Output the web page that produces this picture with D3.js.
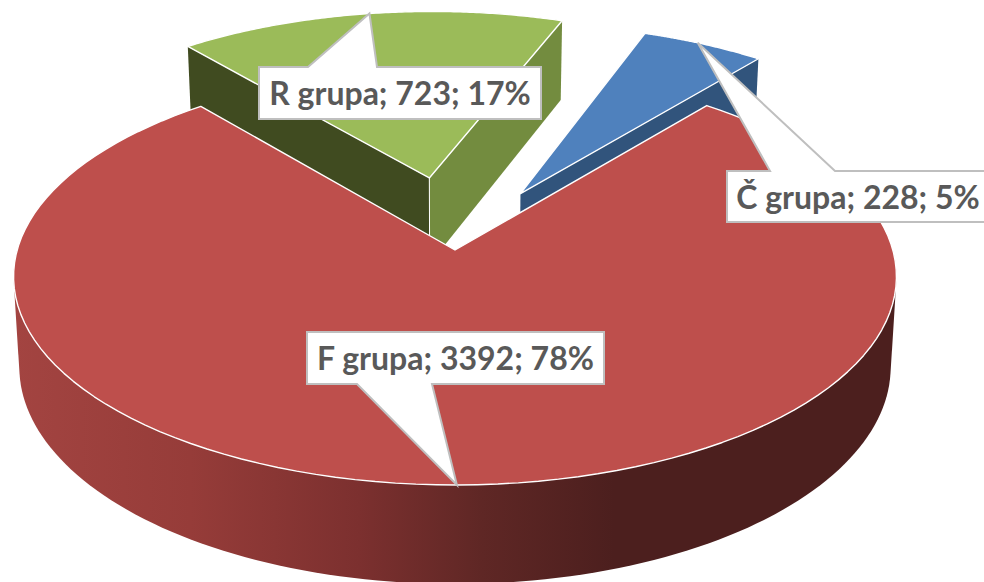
<!DOCTYPE html>
<html><head><meta charset="utf-8">
<script src="https://cdn.jsdelivr.net/npm/d3@7/dist/d3.min.js"></script>
<style>html,body{margin:0;padding:0;background:#fff;overflow:hidden}svg{display:block}</style>
</head><body><svg id="c" width="984" height="582"></svg>
<script>
// data
const categories = ["Č grupa", "F grupa", "R grupa"];
const values = [228, 3392, 723];
const percents = [5, 78, 17];
// styling
const topColors = ["#4F81BD", "#BE4F4C", "#9BBB59"];
const wallStart = ["#31547C", null, "#404B20"]; // wall at the slice's start edge
const wallEnd = ["#31547C", null, "#738C3F"];
const offsetU = [0.155, 0, -0.0614];
const offsetV = [-0.285, 0, -0.368];
const labelBoxes = [[727, 171, 262, 51], [307, 332, 297, 52], [259, 67, 282, 52]];
const labelBases = [[770, 835], [357, 432], [308, 377]];
const baseOnTop = [true, false, true];
const tipFraction = [0.45, 0.5, 0.5];

const firstAngle = 20.3 * Math.PI / 180;
const k = 0.128, h = 89, bottomShrink = 0.987;
const x = d3.scaleLinear().domain([-1, 1]).range([455 - 437.8, 455 + 437.8]);
const y = d3.scaleLinear().domain([-1, 1]).range([250 - 204.9, 250 + 204.9]);

function project(u, v, bottom) {
  const s = 1 / (1 - k * v);
  const f = bottom ? bottomShrink : 1;
  return [x(u * s * f), y(v * s * f) + (bottom ? h * s : 0)];
}
const rim = (t, i, b) => project(Math.sin(t) + offsetU[i], -Math.cos(t) + offsetV[i], b);
const centre = (i, b) => project(offsetU[i], offsetV[i], b);
const line = d3.line();
const arcPts = (a0, a1, i, b) => d3.range(0, 121).map(n => rim(a0 + (a1 - a0) * n / 120, i, b));

const pie = d3.pie().sort(null).startAngle(firstAngle).endAngle(firstAngle + 2 * Math.PI);
const arcs = pie(values);
const svg = d3.select("#c");

const grad = svg.append("defs").append("linearGradient").attr("id", "redSide")
  .attr("gradientUnits", "userSpaceOnUse").attr("x1", 14).attr("x2", 897).attr("y1", 0).attr("y2", 0);
[[0, "#A34441"], [0.2, "#963C39"], [0.39, "#7C302F"], [0.53, "#5F2725"], [0.68, "#4C1F1E"], [1, "#4C1F1E"]]
  .forEach(d => grad.append("stop").attr("offset", d[0]).attr("stop-color", d[1]));

const edge = { stroke: "#fff", "stroke-width": 1.4, "stroke-linejoin": "round" };
function wall(g, t, i, fill) {
  g.append("path")
    .attr("d", line([centre(i, false), rim(t, i, false), rim(t, i, true), centre(i, true)]) + "Z")
    .attr("fill", fill).attr("stroke", "none");
}
function topFace(g, d, i) {
  const p = g.append("path")
    .attr("d", line([centre(i, false), ...arcPts(d.startAngle, d.endAngle, i, false)]) + "Z")
    .attr("fill", topColors[i]);
  Object.entries(edge).forEach(([a, b]) => p.attr(a, b));
}
// exploded slices at the back first
[2, 0].forEach(i => {
  const d = arcs[i], g = svg.append("g");
  if (i === 2) {
    wall(g, d.startAngle, i, wallStart[i]);
    wall(g, d.endAngle, i, wallEnd[i]);
    const a = centre(i, false), b = centre(i, true);
    g.append("line").attr("x1", a[0]).attr("y1", a[1]).attr("x2", b[0]).attr("y2", b[1])
      .attr("stroke", "#fff").attr("stroke-width", 1);
  } else {
    wall(g, d.endAngle, i, wallEnd[i]);
  }
  topFace(g, d, i);
});
// main slice: the wall is the hull of the front half of both rims
{
  const d = arcs[1], g = svg.append("g");
  const a0 = Math.PI * 0.5, a1 = Math.PI * 1.5;
  const hull = d3.polygonHull([...arcPts(a0, a1, 1, false), ...arcPts(a0, a1, 1, true)]);
  g.append("path").attr("d", line(hull) + "Z").attr("fill", "url(#redSide)");
  topFace(g, d, 1);
}
// callouts
const labels = svg.append("g");
arcs.forEach((d, i) => {
  const tip = rim(d.startAngle + (d.endAngle - d.startAngle) * tipFraction[i], i, false);
  const [bx, by, bw, bh] = labelBoxes[i];
  const [b0, b1] = labelBases[i];
  const yb = baseOnTop[i] ? by : by + bh;
  const pts = baseOnTop[i]
    ? [[bx, by], [b0, by], tip, [b1, by], [bx + bw, by], [bx + bw, by + bh], [bx, by + bh]]
    : [[bx, by], [bx + bw, by], [bx + bw, by + bh], [b1, yb], tip, [b0, yb], [bx, by + bh]];
  labels.append("path").attr("d", line(pts) + "Z").attr("fill", "#fff")
    .attr("stroke", "#BFBFBF").attr("stroke-width", 2).attr("stroke-linejoin", "miter");
  labels.append("text").attr("x", bx + bw / 2).attr("y", by + bh / 2 + 12)
    .attr("text-anchor", "middle").attr("font-family", "Lato, 'Open Sans', sans-serif")
    .attr("font-weight", 700).attr("font-size", 32).attr("fill", "#595959")
    .text(`${categories[i]}; ${values[i]}; ${percents[i]}%`);
});
</script></body></html>
